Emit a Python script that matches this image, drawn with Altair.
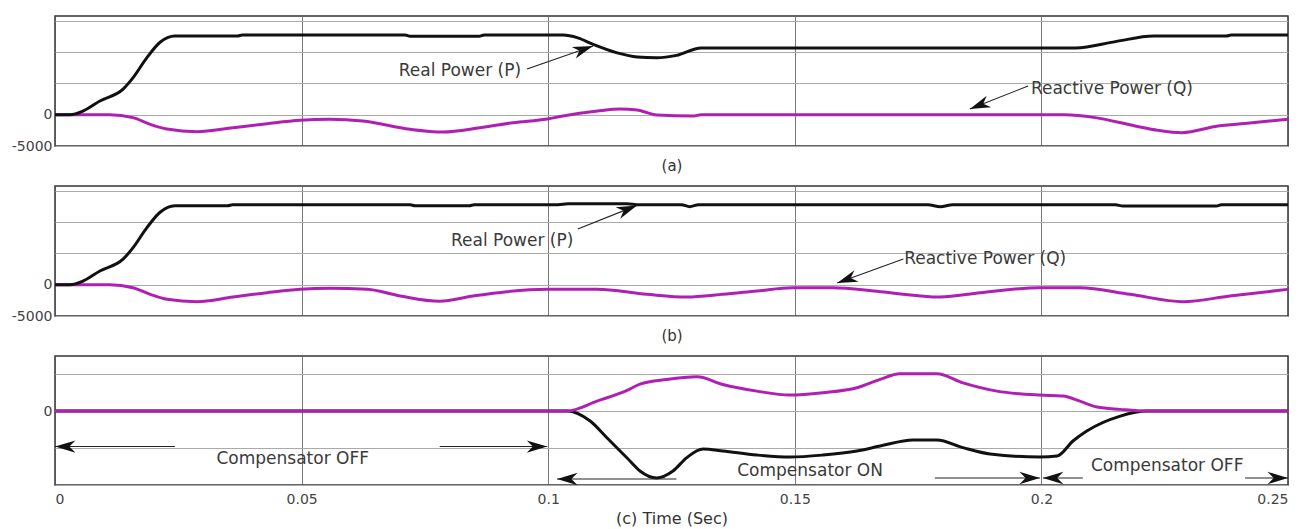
import math
import altair as alt
import pandas as pd

# ---------------- layout constants ----------------
W = 1233
HA, HB, HC = 130, 130, 129
YDOM_AB = [-5000, 15800]
YDOM_C = [-10000, 7450]
X_TICKS = [0, 0.05, 0.1, 0.15, 0.2, 0.25]
Y_TICKS_AB = [-5000, 0, 5000, 10000, 15000]
Y_TICKS_C = [-10000, -5000, 0, 5000]

# ---------------- panel (a) data ----------------
t_pa = [0, 0.003, 0.0057, 0.0091, 0.0138, 0.0158, 0.0186, 0.0213, 0.0243, 0.037, 0.038,
        0.071, 0.072, 0.086, 0.087, 0.103, 0.106, 0.109, 0.114, 0.118, 0.122, 0.126,
        0.131, 0.207, 0.215, 0.2227, 0.2375, 0.2385, 0.25]
v_pa = [0, 0, 600, 2200, 4100, 5900, 9100, 11600, 12600, 12600, 12750,
        12750, 12550, 12550, 12750, 12750, 12300, 11300, 9900, 9250, 9130, 9500,
        10700, 10700, 11700, 12600, 12600, 12750, 12750]

t_qa = [0, 0.0111, 0.0158, 0.0193, 0.0227, 0.0288, 0.0361, 0.043, 0.0497, 0.0557, 0.0624,
        0.072, 0.0787, 0.0862, 0.0929, 0.0998, 0.103, 0.11, 0.1146, 0.118, 0.122, 0.1294,
        0.131, 0.2048, 0.2109, 0.219, 0.2237, 0.2285, 0.2358, 0.2427, 0.25]
v_qa = [0, 0, -460, -1530, -2280, -2700, -2070, -1430, -890, -730, -1000,
        -2330, -2760, -2070, -1270, -680, -200, 600, 920, 760, -40, -200,
        0, 0, -460, -1800, -2500, -2870, -1800, -1270, -730]

# ---------------- panel (b) data ----------------
t_pb = [0, 0.003, 0.0057, 0.0091, 0.0138, 0.0158, 0.0186, 0.0213, 0.0243, 0.035, 0.036,
        0.072, 0.073, 0.084, 0.085, 0.102, 0.104, 0.116, 0.118, 0.127, 0.1287, 0.1305,
        0.177, 0.1795, 0.182, 0.215, 0.2165, 0.2355, 0.2365, 0.25]
v_pb = [0, 0, 600, 2200, 4100, 5900, 9100, 11600, 12650, 12650, 12800,
        12800, 12650, 12650, 12800, 12800, 12950, 12950, 12800, 12800, 12500, 12800,
        12800, 12500, 12800, 12800, 12600, 12600, 12800, 12800]

t_qb = [0, 0.0111, 0.0158, 0.0193, 0.0227, 0.0288, 0.0361, 0.043, 0.0497, 0.0557, 0.0633,
        0.07, 0.078, 0.0848, 0.0916, 0.0998, 0.1099, 0.12, 0.1281, 0.1354, 0.1423, 0.1496,
        0.1577, 0.1673, 0.1795, 0.1876, 0.1997, 0.2078, 0.218, 0.2287, 0.2382, 0.25]
v_qb = [0, 0, -470, -1530, -2330, -2710, -1960, -1270, -730, -570, -730,
        -1800, -2650, -1800, -1110, -730, -730, -1530, -1960, -1530, -1000, -470,
        -470, -1110, -1960, -1270, -470, -470, -1530, -2710, -1800, -730]

# ---------------- panel (c) data ----------------
t_pc = [0, 0.1038, 0.1085, 0.1119, 0.116, 0.1186, 0.122, 0.1253, 0.1281, 0.1314, 0.1354,
        0.1423, 0.149, 0.1557, 0.1626, 0.1673, 0.174, 0.1788, 0.1841, 0.1896, 0.1997,
        0.2032, 0.2064, 0.2092, 0.216, 0.2214, 0.25]
v_pc = [0, 0, -1350, -3600, -6350, -8100, -9050, -8100, -6300, -5140, -5400,
        -5950, -6220, -5950, -5400, -4730, -3920, -3920, -4950, -5810, -6220,
        -6080, -4050, -2700, -680, 0, 0]

t_qc = [0, 0.1038, 0.1099, 0.116, 0.1186, 0.124, 0.1302, 0.1354, 0.1423, 0.149, 0.1557,
        0.1626, 0.1673, 0.1713, 0.1788, 0.1841, 0.191, 0.1997, 0.2044, 0.2078, 0.2113,
        0.216, 0.2214, 0.25]
v_qc = [0, 0, 1350, 2800, 3650, 4280, 4640, 3600, 2700, 2160, 2480,
        3150, 4280, 5040, 5040, 3820, 2700, 2160, 2030, 1350, 540,
        230, 0, 0]

# ---------------- annotations ----------------
txt_a = ["Real Power (P)", "Reactive Power (Q)"]
txt_a_t = [0.0821, 0.2143]
txt_a_v = [7000, 4120]
arr_a = [(0.0957, 7320, 0.1091, 11000), (0.1973, 4600, 0.1855, 920)]

txt_b = ["Real Power (P)", "Reactive Power (Q)"]
txt_b_t = [0.0927, 0.1886]
txt_b_v = [7000, 4120]
arr_b = [(0.106, 8920, 0.118, 12700), (0.172, 4120, 0.1586, 280)]

txt_c = ["Compensator OFF", "Compensator ON", "Compensator OFF"]
txt_c_t = [0.0482, 0.1531, 0.2255]
txt_c_v = [-6530, -8110, -7430]
arr_c = [(0.0243, -4800, 0.0, -4800), (0.078, -4800, 0.0998, -4800),
         (0.126, -9190, 0.1018, -9190), (0.1784, -9050, 0.1997, -9050),
         (0.2084, -9050, 0.2003, -9050), (0.2413, -9050, 0.25, -9050)]

P_COLOR = "#111111"
Q_COLOR = "#b01fb4"
FONT = "DejaVu Sans"
ARROW_PATH = "M0,0 L0.6,2 L0,1.4 L-0.6,2 Z"


def panel(series, ydom, H, yvals, ylabel_expr, texts, tt, tv, arrows, xaxis):
    xenc = alt.X("t:Q", scale=alt.Scale(domain=[0, 0.25], nice=False), axis=xaxis)
    yenc = alt.Y("v:Q", scale=alt.Scale(domain=ydom, nice=False, zero=False),
                 axis=alt.Axis(values=yvals, labelExpr=ylabel_expr, ticks=False,
                               domain=False, grid=True, title=None, labelPadding=3))
    layers = []
    for ts, vs, col in series:
        df = pd.DataFrame({"t": ts, "v": vs})
        layers.append(
            alt.Chart(df).mark_line(strokeWidth=3, interpolate="monotone", color=col)
            .encode(x=xenc, y=yenc)
        )
    # arrows
    adf = pd.DataFrame({
        "t": [a[0] for a in arrows], "v": [a[1] for a in arrows],
        "t2": [a[2] for a in arrows], "v2": [a[3] for a in arrows],
    })
    pxt = W / 0.25
    pxv = H / (ydom[1] - ydom[0])
    angs = []
    for a in arrows:
        dx = (a[2] - a[0]) * pxt
        dy = -(a[3] - a[1]) * pxv
        angs.append(math.degrees(math.atan2(dx, -dy)) % 360)
    hdf = pd.DataFrame({"t": [a[2] for a in arrows], "v": [a[3] for a in arrows], "ang": angs})
    layers.append(
        alt.Chart(adf).mark_rule(color="#222", strokeWidth=1.1)
        .encode(x=xenc, y=yenc, x2="t2:Q", y2="v2:Q")
    )
    layers.append(
        alt.Chart(hdf).mark_point(shape=ARROW_PATH, filled=True, size=420, color="#111", opacity=1)
        .encode(x=xenc, y=yenc, angle=alt.Angle("ang:Q", scale=None))
    )
    tdf = pd.DataFrame({"t": tt, "v": tv, "label": texts})
    layers.append(
        alt.Chart(tdf).mark_text(font=FONT, fontSize=17, color="#3a3a3a", align="center", baseline="middle")
        .encode(x=xenc, y=yenc, text="label:N")
    )
    return alt.layer(*layers).properties(width=W, height=H)


def top_xaxis(title):
    return alt.Axis(values=X_TICKS, labels=False, ticks=False, domain=False, grid=True,
                    title=title, titleFont=FONT, titleFontSize=15, titleFontWeight="normal",
                    titleColor="#333", titlePadding=12)


lab_ab = "datum.value == 0 ? '0' : (datum.value == -5000 ? '-5000' : '')"
lab_c = "datum.value == 0 ? '0' : ''"

pa = panel([(t_qa, v_qa, Q_COLOR), (t_pa, v_pa, P_COLOR)], YDOM_AB, HA, Y_TICKS_AB, lab_ab,
           txt_a, txt_a_t, txt_a_v, arr_a, top_xaxis("(a)"))
pb = panel([(t_qb, v_qb, Q_COLOR), (t_pb, v_pb, P_COLOR)], YDOM_AB, HB, Y_TICKS_AB, lab_ab,
           txt_b, txt_b_t, txt_b_v, arr_b, top_xaxis("(b)"))
xaxis_c = alt.Axis(values=X_TICKS, format="~g", ticks=False, domain=False, grid=True,
                   labelFont=FONT, labelFontSize=14, labelColor="#444", labelPadding=7,
                   title="(c) Time (Sec)", titleFont=FONT, titleFontSize=16,
                   titleFontWeight="normal", titleColor="#333", titlePadding=4)
pc = panel([(t_pc, v_pc, P_COLOR), (t_qc, v_qc, Q_COLOR)], YDOM_C, HC, Y_TICKS_C, lab_c,
           txt_c, txt_c_t, txt_c_v, arr_c, xaxis_c)

chart = (
    alt.vconcat(pa, pb, pc, spacing=40, bounds="flush")
    .properties(padding={"left": 2, "top": 7, "right": 5, "bottom": 2}, background="white")
    .configure_view(stroke="#333", strokeWidth=1.5)
    .configure_axisX(gridColor="#555", gridWidth=0.8, gridOpacity=1)
    .configure_axisY(gridColor="#aaa", gridWidth=1, gridOpacity=1, labelFont=FONT,
                     labelFontSize=14, labelColor="#444")
)

chart.save("out.html", embed_options={"renderer": "svg", "actions": False})
